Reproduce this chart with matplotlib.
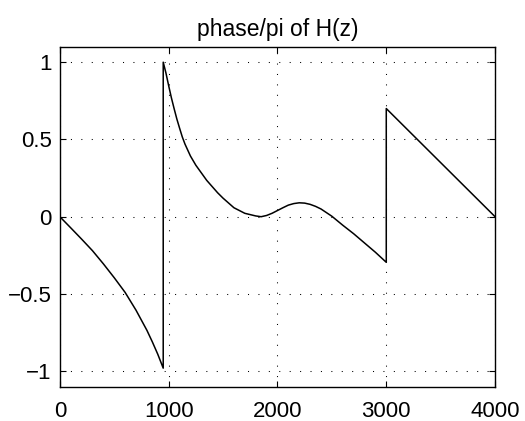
import numpy as np
import matplotlib
matplotlib.use('Agg')
import matplotlib.pyplot as plt

# frequency axis (Hz) and phase/pi values
freq = [0, 100, 200, 300, 400, 500, 600, 700, 800, 850, 900, 950,
        950, 975, 1000, 1025, 1050, 1075, 1100, 1125, 1150, 1200, 1250, 1300,
        1350, 1400, 1450, 1500, 1600, 1700, 1800, 1850, 1900, 1950, 2000, 2050,
        2100, 2150, 2200, 2250, 2300, 2350, 2400, 2500, 2600, 2700, 2800, 2900, 3000,
        3000, 4000]
phase = [0.0, -0.072, -0.145, -0.22, -0.305, -0.395, -0.49, -0.605, -0.735, -0.81, -0.89, -0.98,
         1.0, 0.93, 0.848, 0.77, 0.70, 0.633, 0.574, 0.517, 0.47, 0.393, 0.333, 0.284,
         0.235, 0.195, 0.155, 0.12, 0.058, 0.022, 0.005, 0.0, 0.008, 0.022, 0.04, 0.058,
         0.075, 0.085, 0.09, 0.088, 0.08, 0.067, 0.05, 0.003, -0.055, -0.11, -0.17, -0.23, -0.295,
         0.7, 0.0]

x_ticks = [0, 1000, 2000, 3000, 4000]
y_ticks = [-1, -0.5, 0, 0.5, 1]
y_tick_labels = ['\u22121', '\u22120.5', '0', '0.5', '1']

plt.rcParams['font.family'] = ['Liberation Sans', 'DejaVu Sans']

fig = plt.figure(figsize=(5.25, 4.21), dpi=100)
ax = fig.add_axes([0.114, 0.0815, 0.829, 0.8075])

ax.plot(freq, phase, color='black', linewidth=1.1)

ax.set_xlim(0, 4000)
ax.set_ylim(-1.1, 1.1)
ax.set_xticks(x_ticks)
ax.set_yticks(y_ticks)
ax.set_yticklabels(y_tick_labels)

# matlab style: ticks inside on all sides, dotted grid
ax.tick_params(direction='in', length=4, width=0.8, top=True, right=True,
               labelsize=16)
ax.tick_params(axis='x', pad=10)
ax.tick_params(axis='y', pad=6)
ax.grid(True, color='black', linestyle=(0, (1, 9)), linewidth=0.75)
for sp in ax.spines.values():
    sp.set_linewidth(1.0)

ax.set_title('phase/pi of H(z)', fontsize=16.5, pad=8)

fig.savefig('out.png', dpi=100)
